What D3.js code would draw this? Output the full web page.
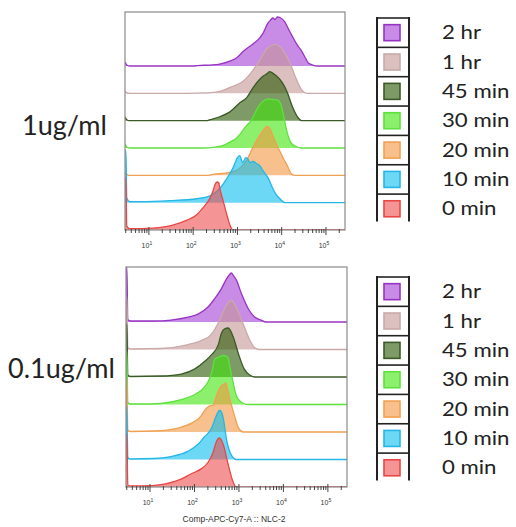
<!DOCTYPE html>
<html>
<head>
<meta charset="utf-8">
<script src="https://cdn.jsdelivr.net/npm/d3@7"></script>
<style>
  html, body { margin: 0; padding: 0; background: white; }
  svg { display: block; }
</style>
</head>
<body>
<script>
// legend / series names, top to bottom
const timepoints = ["2 hr", "1 hr", "45 min", "30 min", "20 min", "10 min", "0 min"]
const doses = ["1ug/ml", "0.1ug/ml"]
const decades = [1, 2, 3, 4, 5]

// histograms: [log10 intensity, % of mode]
// 1ug/ml
const hi2hr = [[0.46,8],[0.5,2],[0.56,0],[2.0,0],[2.1,1],[2.38,2],[2.6,4],[2.83,10],[3.0,18],[3.12,29],[3.35,45],[3.5,57],[3.58,67],[3.69,88],[3.75,94],[3.8,98],[3.85,95],[3.9,100],[3.96,99],[4.07,90],[4.15,76],[4.25,59],[4.35,43],[4.46,29],[4.55,14],[4.6,6],[4.7,2],[4.8,0]]
const hi1hr = [[0.46,5],[0.5,1],[0.56,0],[1.86,0],[2.3,1],[2.6,4],[2.83,12],[3.12,24],[3.35,47],[3.5,67],[3.67,92],[3.78,98],[3.85,100],[3.93,97],[4.03,88],[4.12,74],[4.19,61],[4.34,27],[4.46,6],[4.57,0]]
const hi45 = [[0.46,8],[0.5,2],[0.56,0],[2.3,0],[2.38,2],[2.6,8],[2.83,18],[3.06,37],[3.21,47],[3.35,67],[3.5,84],[3.6,92],[3.67,96],[3.73,100],[3.78,98],[3.87,92],[3.96,84],[4.05,72],[4.12,59],[4.25,27],[4.37,6],[4.45,0]]
const hi30 = [[0.46,8],[0.5,2],[0.56,0],[2.2,0],[2.5,2],[2.7,6],[2.83,12],[3.0,22],[3.1,33],[3.2,45],[3.3,55],[3.4,72],[3.5,88],[3.6,97],[3.7,100],[3.8,99],[3.9,98],[3.98,90],[4.05,62],[4.12,33],[4.2,12],[4.3,4],[4.45,0]]
const hi20 = [[0.46,6],[0.5,2],[0.56,0],[2.3,0],[2.45,2],[2.83,6],[3.06,15],[3.21,31],[3.35,57],[3.5,81],[3.6,94],[3.67,100],[3.73,96],[3.8,81],[3.88,64],[3.96,49],[4.04,34],[4.12,21],[4.23,2],[4.3,0]]
const hi10 = [[0.46,106],[0.48,106],[0.5,10],[0.56,2],[0.8,2],[1.47,4],[2.08,8],[2.38,14],[2.6,29],[2.76,49],[2.9,71],[3.0,92],[3.05,96],[3.12,82],[3.19,92],[3.23,90],[3.28,82],[3.35,84],[3.43,80],[3.5,76],[3.58,65],[3.69,51],[3.8,29],[3.88,16],[3.96,8],[4.07,0]]
const hi0 = [[0.46,106],[0.48,106],[0.5,8],[0.56,3],[0.8,3],[1.09,4],[1.54,10],[1.86,20],[2.08,31],[2.22,45],[2.38,65],[2.45,80],[2.49,92],[2.54,98],[2.58,96],[2.6,86],[2.66,65],[2.72,45],[2.78,25],[2.83,10],[2.9,0]]
// 0.1ug/ml
const lo2hr = [[0.46,112],[0.48,112],[0.5,5],[0.56,2],[1.09,2],[1.47,4],[1.86,10],[2.08,16],[2.31,31],[2.45,47],[2.6,67],[2.72,88],[2.8,98],[2.83,100],[2.88,94],[2.94,86],[3.06,57],[3.21,27],[3.35,10],[3.5,4],[3.6,0]]
const lo1hr = [[0.46,108],[0.48,108],[0.5,4],[0.56,1],[1.25,2],[1.86,10],[2.15,18],[2.38,31],[2.54,55],[2.67,82],[2.78,98],[2.83,100],[2.94,86],[3.1,51],[3.24,20],[3.35,4],[3.45,0]]
const lo45 = [[0.46,108],[0.48,108],[0.5,4],[0.56,1],[1.25,2],[1.7,6],[2.0,16],[2.22,31],[2.38,45],[2.54,67],[2.6,88],[2.67,98],[2.76,100],[2.87,82],[2.99,47],[3.12,16],[3.24,4],[3.35,0]]
const lo30 = [[0.46,108],[0.48,108],[0.5,4],[0.56,1],[1.0,1],[1.25,2],[1.7,10],[2.0,20],[2.22,35],[2.33,51],[2.4,70],[2.45,92],[2.55,97],[2.65,100],[2.75,97],[2.8,75],[2.87,45],[2.94,18],[3.06,4],[3.2,0]]
const lo20 = [[0.46,108],[0.48,108],[0.5,4],[0.56,1],[1.09,2],[1.63,8],[1.93,18],[2.15,33],[2.22,43],[2.33,53],[2.42,55],[2.49,73],[2.6,94],[2.67,98],[2.7,100],[2.79,69],[2.9,33],[2.99,8],[3.1,0]]
const lo10 = [[0.46,108],[0.48,108],[0.5,4],[0.56,1],[1.09,2],[1.47,6],[1.86,17],[2.08,31],[2.22,46],[2.38,63],[2.49,89],[2.56,100],[2.6,98],[2.65,83],[2.72,41],[2.83,9],[2.94,0]]
const lo0 = [[0.46,108],[0.48,108],[0.5,4],[0.56,2],[0.8,2],[1.32,6],[1.7,16],[1.93,27],[2.15,37],[2.31,51],[2.42,71],[2.49,92],[2.56,100],[2.65,86],[2.76,45],[2.87,10],[2.94,0]]

const colors = {
    "base":   ["#a33ed5", "#c59696", "#285700", "#3fe60a", "#f3963f", "#0abef0", "#ed4d4d"],
    "stroke": ["#9834c4", "#c9a9a9", "#3b5a28", "#5ee03e", "#f0a052", "#26b6e6", "#ea4646"],
    "frame": "#8a8a8a",
    "text": "#222"
}
const fillOpacity = 0.6
const [width, height] = [516, 527]

const panels = [
    { "dose": doses[0], "series": [hi2hr, hi1hr, hi45, hi30, hi20, hi10, hi0],
      "x0": 125, "x1": 345, "y0": 12, "y1": 230, "step": 27.33, "label": [22, 135], "legendTop": 18, "tickY": 248 },
    { "dose": doses[1], "series": [lo2hr, lo1hr, lo45, lo30, lo20, lo10, lo0],
      "x0": 126, "x1": 347, "y0": 267, "y1": 487, "step": 27.5, "label": [8, 378], "legendTop": 277, "tickY": 505 }
]

const svg = d3.select("body")
    .append("svg")
    .attr("width", width)
    .attr("height", height)

panels.forEach((p, pi) => {
    const x = d3.scaleLog()
        .domain([10 ** 0.46, 10 ** 5.43])
        .range([p.x0, p.x1])
    const row = d3.scaleLinear()
        .domain([0, 6])
        .range([p.y1 - 6 * p.step, p.y1])
    const h = d3.scaleLinear()
        .domain([0, 100])
        .range([0, 49])

    svg.append("clipPath")
        .attr("id", "clip" + pi)
        .append("rect")
        .attr("x", p.x0).attr("y", p.y0)
        .attr("width", p.x1 - p.x0).attr("height", p.y1 - p.y0)

    const g = svg.append("g").attr("clip-path", `url(#clip${pi})`)

    p.series.forEach((s, i) => {
        const pts = s.concat([[5.43, 0]])
        const base = row(i)
        const area = d3.area()
            .x(d => x(10 ** d[0]))
            .y0(base)
            .y1(d => base - h(d[1]))
            .curve(d3.curveMonotoneX)
        const line = d3.line()
            .x(d => x(10 ** d[0]))
            .y(d => base - h(d[1]))
            .curve(d3.curveMonotoneX)
        g.append("path")
            .attr("d", area(pts))
            .attr("fill", colors.base[i])
            .attr("fill-opacity", fillOpacity)
        g.append("path")
            .attr("d", line(pts))
            .attr("fill", "none")
            .attr("stroke", colors.stroke[i])
            .attr("stroke-width", 1.3)
    })

    // frame
    svg.append("rect")
        .attr("x", p.x0).attr("y", p.y0)
        .attr("width", p.x1 - p.x0).attr("height", p.y1 - p.y0)
        .attr("fill", "none")
        .attr("stroke", colors.frame)
        .attr("stroke-width", 1.2)

    // ticks
    const ticks = x.ticks()
    svg.append("g")
        .selectAll("line")
        .data(ticks)
        .join("line")
        .attr("x1", d => x(d)).attr("x2", d => x(d))
        .attr("y1", d => Number.isInteger(Math.log10(d)) ? p.y1 - 3 : p.y1 - 1)
        .attr("y2", d => Number.isInteger(Math.log10(d)) ? p.y1 + 5 : p.y1 + 3)
        .attr("stroke", "#444")
        .attr("stroke-width", 1)

    const labels = svg.append("g")
        .selectAll("text")
        .data(decades)
        .join("text")
        .attr("x", d => x(10 ** d) - 2)
        .attr("y", p.tickY)
        .attr("text-anchor", "middle")
        .style("font", "7px 'Liberation Sans', Arial, sans-serif")
        .attr("fill", "#333")
    labels.append("tspan").text("10")
    labels.append("tspan").attr("dy", -3).style("font-size", "5px").text(d => d)

    // dose label
    svg.append("text")
        .attr("x", p.label[0]).attr("y", p.label[1])
        .style("font", "27px Lato, sans-serif")
        .attr("fill", colors.text)
        .text(p.dose)

    // legend
    const cell = 29.35
    const lg = svg.append("g")
    lg.selectAll("line.sep")
        .data(timepoints)
        .join("line")
        .attr("x1", 377).attr("x2", 409)
        .attr("y1", (d, i) => p.legendTop + i * cell)
        .attr("y2", (d, i) => p.legendTop + i * cell)
        .attr("stroke", "#222")
        .attr("stroke-width", 1.6)
    lg.selectAll("line.side")
        .data([377, 409])
        .join("line")
        .attr("x1", d => d).attr("x2", d => d)
        .attr("y1", p.legendTop - 1)
        .attr("y2", p.legendTop + 7 * cell - 2)
        .attr("stroke", "#222")
        .attr("stroke-width", 2)
    lg.selectAll("rect")
        .data(timepoints)
        .join("rect")
        .attr("x", 384)
        .attr("y", (d, i) => p.legendTop + i * cell + cell / 2 - 8)
        .attr("width", 16).attr("height", 16)
        .attr("fill", (d, i) => d3.interpolateRgb("white", colors.base[i])(fillOpacity))
        .attr("stroke", (d, i) => colors.stroke[i])
        .attr("stroke-width", 1.6)
    lg.selectAll("text")
        .data(timepoints)
        .join("text")
        .attr("transform", (d, i) => `translate(442,${p.legendTop + i * cell + cell / 2 + 6.5}) scale(1.2,1)`)
        .style("font", "18.5px Lato, sans-serif")
        .attr("fill", colors.text)
        .text(d => d)
})

svg.append("text")
    .attr("x", 234).attr("y", 522)
    .attr("text-anchor", "middle")
    .style("font", "8.5px 'Liberation Sans', Arial, sans-serif")
    .attr("fill", "#333")
    .text("Comp-APC-Cy7-A :: NLC-2")
</script>
</body>
</html>
